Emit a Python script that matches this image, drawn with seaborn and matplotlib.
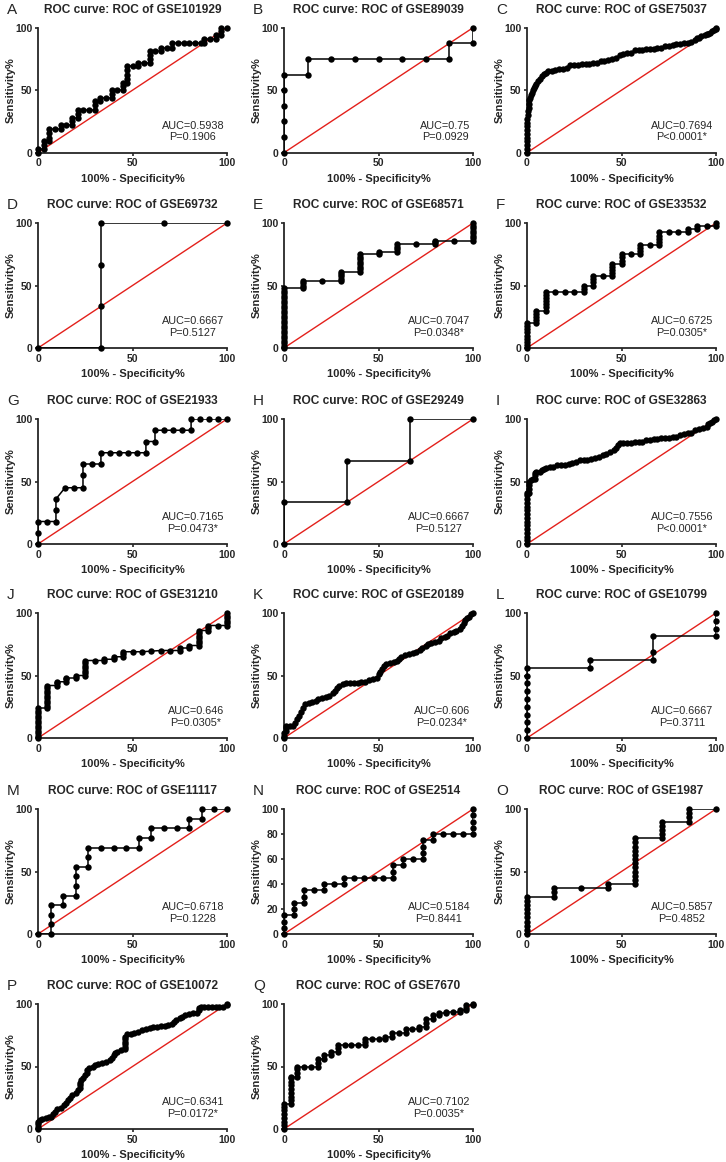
import numpy as np
import pandas as pd
import matplotlib
matplotlib.use("Agg")
import matplotlib.pyplot as plt
import seaborn as sns

sns.set_style("ticks")
plt.rcParams['font.family'] = ['Liberation Sans Narrow', 'Liberation Sans', 'DejaVu Sans']

# ---------------- data ----------------
letters = list("ABCDEFGHIJKLMNOPQ")
datasets = ["GSE101929", "GSE89039", "GSE75037", "GSE69732", "GSE68571", "GSE33532",
            "GSE21933", "GSE29249", "GSE32863", "GSE31210", "GSE20189", "GSE10799",
            "GSE11117", "GSE2514", "GSE1987", "GSE10072", "GSE7670"]
auc_labels = ["AUC=0.5938", "AUC=0.75", "AUC=0.7694", "AUC=0.6667", "AUC=0.7047", "AUC=0.6725",
              "AUC=0.7165", "AUC=0.6667", "AUC=0.7556", "AUC=0.646", "AUC=0.606", "AUC=0.6667",
              "AUC=0.6718", "AUC=0.5184", "AUC=0.5857", "AUC=0.6341", "AUC=0.7102"]
p_labels = ["P=0.1906", "P=0.0929", "P<0.0001*", "P=0.5127", "P=0.0348*", "P=0.0305*",
            "P=0.0473*", "P=0.5127", "P<0.0001*", "P=0.0305*", "P=0.0234*", "P=0.3711",
            "P=0.1228", "P=0.8441", "P=0.4852", "P=0.0172*", "P=0.0035*"]
diag = [0, 100]
ticks_default = [0, 50, 100]
ticks_N = [0, 20, 40, 60, 80, 100]

# ROC points: (100% - specificity%, sensitivity%)
roc_A = [(0,0),(0,3),(3,3),(3,6),(3,9),(6,9),(6,12),(6,16),(6,19),(9,19),(12,19),(12,22),(15,22),
         (18,22),(18,25),(18,28),(21,28),(21,31),(21,34),(24,34),(27,34),(30,34),(30,38),(30,41),
         (33,41),(33,44),(36,44),(39,44),(39,47),(39,50),(42,50),(45,50),(45,53),(45,56),(47,56),
         (47,59),(47,62),(47,66),(47,69),(50,69),(53,69),(53,72),(56,72),(59,72),(59,75),(59,78),
         (59,81),(62,81),(65,81),(65,84),(68,84),(71,84),(71,88),(74,88),(77,88),(80,88),(83,88),
         (86,88),(88,88),(88,91),(91,91),(94,91),(94,94),(97,94),(97,97),(97,100),(100,100)]
roc_B = [(0,0),(0,12.5),(0,25),(0,37.5),(0,50),(0,62.5),(12.5,62.5),(12.5,75),(25,75),(37.5,75),
         (50,75),(62.5,75),(75,75),(87.5,75),(87.5,87.5),(100,87.5),(100,100)]
roc_C = [(0,0),(0,3),(0,6),(0,9),(0,12),(0,15),(0,18),(0,21),(0,24),(0,27),(0.5,30),(0.5,33),
         (1,36),(1,39),(1,42),(1.5,44),(2,46),(2.5,48),(3,50),(3.5,52),(4,53),(5,55),(6,57),(7,59),
         (8,61),(9,63),(10,64),(11,65),(13,65.5),(15,66),(17,67),(19,67),(21,68),(23,70),(25,70),
         (27,70.5),(29,71),(31,71),(33,71),(35,71.5),(37,72),(39,73),(41,73),(43,74),(45,75),
         (47,76),(49,78),(51,79),(53,80),(55,80),(57,82),(59,82),(61,82.5),(63,83),(65,83),(67,83),
         (69,84),(71,84),(73,85),(75,85.5),(77,86),(79,87),(81,87),(83,88),(85,88),(87,88.5),
         (89,90),(90,92),(91,92),(92,93),(94,94),(95,95),(96,95),(97,96),(98,97),(99,98),(100,99),
         (100,100)]
roc_D = [(0,0),(33.3,0),(33.3,33.3),(33.3,66.7),(33.3,100),(66.7,100),(100,100)]
roc_E = [(0,0),(0,2),(0,4),(0,6),(0,8),(0,10),(0,12),(0,14),(0,16),(0,18),(0,20),(0,22),(0,24),
         (0,26),(0,28),(0,30),(0,32),(0,34),(0,36),(0,38),(0,40),(0,42),(0,44),(0,46),(0,48),
         (10,48),(10,50),(10,52),(10,53.5),(20,53.5),(30,53.5),(30,55.5),(30,57.5),(30,59.5),
         (30,61),(40,61),(40,63),(40,65),(40,67),(40,69),(40,71),(40,73),(40,75),(50,75),(50,77),
         (60,77),(60,79),(60,81),(60,83),(70,83),(80,83),(80,85),(80,86),(90,86),(100,86),(100,88),
         (100,90),(100,92),(100,94),(100,96),(100,98),(100,100)]
roc_F = [(0,0),(0,2.5),(0,5),(0,7.5),(0,10),(0,12.5),(0,15),(0,17.5),(0,20),(5,20),(5,22.5),
         (5,25),(5,27.5),(5,30),(10,30),(10,32.5),(10,35),(10,37.5),(10,40),(10,42.5),(10,45),
         (15,45),(20,45),(25,45),(30,45),(30,47.5),(30,50),(35,50),(35,52.5),(35,55),(35,57.5),
         (40,57.5),(45,57.5),(45,60),(45,62.5),(45,65),(45,67.5),(50,67.5),(50,70),(50,72.5),
         (50,75),(55,75),(60,75),(60,77.5),(60,80),(60,82.5),(65,82.5),(70,82.5),(70,85),(70,87.5),
         (70,90),(70,92.5),(75,92.5),(80,92.5),(85,92.5),(85,95),(90,95),(90,97.5),(95,97.5),
         (100,97.5),(100,100)]
roc_G = [(0,0),(0,9),(0,18),(4.8,18),(9.5,18),(9.5,27),(9.5,36),(14.3,45),(19,45),(23.8,45),
         (23.8,55),(23.8,64),(28.6,64),(33.3,64),(33.3,73),(38.1,73),(42.9,73),(47.6,73),(52.4,73),
         (57.1,73),(57.1,82),(61.9,82),(61.9,91),(66.7,91),(71.4,91),(76.2,91),(81,91),(81,100),
         (85.7,100),(90.5,100),(95.2,100),(100,100)]
roc_H = [(0,0),(0,33.3),(33.3,33.3),(33.3,66.7),(66.7,66.7),(66.7,100),(100,100)]
roc_I = [(0,0),(0,3),(0,6),(0,9),(0,12),(0,15),(0,18),(0,21),(0,24),(0,27),(0,30),(0,33),(0,36),
         (0,39),(0,41),(1,41),(1,44),(1,47),(1,50),(2,51),(3,52),(4,52),(4,55),(4,57),(5,58),(7,58),
         (8,59),(9,60),(10,61),(12,62),(14,62),(16,63),(18,63),(20,63.5),(22,64),(24,65),(26,66),
         (28,67),(30,67),(32,67.5),(34,68),(36,69),(38,70),(40,71),(42,72),(44,74),(46,75),(47,77),
         (48,79),(49,81),(51,81),(53,81),(55,81),(57,81.5),(59,82),(61,82),(63,83),(65,83),(67,84),
         (69,84),(71,84.5),(73,85),(75,85),(77,86),(79,86),(81,87),(83,88),(85,88.5),(87,89),
         (89,91),(91,92),(93,93),(95,94),(96,96),(97,97),(98,98),(99,99),(100,100)]
roc_J = [(0,0),(0,2),(0,4),(0,6),(0,8),(0,10),(0,12),(0,14),(0,16),(0,18),(0,20),(0,22),(0,24),
         (5,24),(5,26),(5,28),(5,30),(5,32),(5,34),(5,36),(5,38),(5,40),(5,42),(10,42),(10,44),
         (10,45),(15,45),(15,47),(15,48),(20,48),(20,50),(25,50),(25,52),(25,54),(25,56),(25,58),
         (25,60),(25,62),(30,62),(35,62),(35,63),(40,63),(40,65),(45,65),(45,67),(45,69),(50,69),
         (55,69),(60,69.5),(65,70),(70,70),(75,70),(75,72),(80,72),(80,74),(85,74),(85,76),(85,78),
         (85,80),(85,82),(85,84),(85,86),(90,86),(90,88),(90,90),(95,90),(100,90),(100,92),(100,94),
         (100,96),(100,98),(100,100)]
roc_K = [(0,0),(0,2),(0,4),(1,6),(1,8),(1,10),(3,10),(5,10),(6,12),(7,15),(8,18),(9,21),(10,24),
         (11,27),(13,28),(15,29),(17,30),(18,31.5),(20,32),(22,33),(24,34),(26,36),(27,38),(28,40),
         (29,41.5),(31,43),(33,44),(35,44),(37,44),(39,44),(41,45),(43,45),(45,46.5),(47,47),(49,48),
         (50,51),(51,53),(52,55.5),(53,58),(54,59),(56,60),(58,61),(60,62),(61,63.5),(62,65),
         (64,66.5),(66,67),(68,68),(70,69),(72,70.5),(73,72),(75,74),(76,75),(78,76),(80,76.5),
         (82,78),(83,80),(85,81),(86,82),(88,84),(90,85),(91,86),(93,87.5),(94,90),(95,92),(96,94.5),
         (97,96),(98,97),(99,99),(100,100)]
roc_L = [(0,0),(0,6.25),(0,12.5),(0,18.75),(0,25),(0,31.25),(0,37.5),(0,43.75),(0,50),(0,56.25),
         (33.3,56.25),(33.3,62.5),(66.7,62.5),(66.7,68.75),(66.7,81.25),(100,81.25),(100,87.5),
         (100,93.75),(100,100)]
roc_M = [(0,0),(6.67,0),(6.67,7.7),(6.67,15.4),(6.67,23.1),(13.3,23.1),(13.3,30.8),(20,30.8),
         (20,38.5),(20,46.2),(20,53.8),(26.7,53.8),(26.7,61.5),(26.7,69.2),(33.3,69.2),(40,69.2),
         (46.7,69.2),(53.3,69.2),(53.3,76.9),(60,76.9),(60,84.6),(66.7,84.6),(73.3,84.6),(80,84.6),
         (80,92.3),(86.7,92.3),(86.7,100),(93.3,100),(100,100)]
roc_N = [(0,0),(0,5),(0,10),(0,15),(5.3,15),(5.3,20),(5.3,25),(10.5,25),(10.5,30),(10.5,35),
         (15.8,35),(21.1,35),(21.1,40),(26.3,40),(31.6,40),(31.6,45),(36.8,45),(42.1,45),(47.4,45),
         (52.6,45),(57.9,45),(57.9,50),(57.9,55),(63.2,55),(63.2,60),(68.4,60),(73.7,60),(73.7,65),
         (73.7,70),(73.7,75),(78.9,75),(78.9,80),(84.2,80),(89.5,80),(94.7,80),(100,80),(100,85),
         (100,90),(100,95),(100,100)]
roc_O = [(0,0),(0,3.3),(0,6.7),(0,10),(0,13.3),(0,16.7),(0,20),(0,23.3),(0,26.7),(0,30),
         (14.3,30),(14.3,33.3),(14.3,36.7),(28.6,36.7),(42.9,36.7),(42.9,40),(57.1,40),(57.1,43.3),
         (57.1,46.7),(57.1,50),(57.1,53.3),(57.1,56.7),(57.1,60),(57.1,63.3),(57.1,66.7),(57.1,70),
         (57.1,73.3),(57.1,76.7),(71.4,76.7),(71.4,80),(71.4,83.3),(71.4,86.7),(71.4,90),(85.7,90),
         (85.7,93.3),(85.7,96.7),(85.7,100),(100,100)]
roc_P = [(0,0),(0,2),(0,4),(0,6),(1,7),(2,8),(4,9),(6,9.5),(7,10),(8,12),(9,14),(10,16),(12,17),
         (14,19),(15,21),(16,23),(17,25),(18,27),(20,29),(21,31),(22,33),(22,35),(22,37),(23,39),
         (24,41),(25,43),(26,45),(26,47),(27,49),(29,50),(30,51),(32,52),(34,53),(36,54),(38,55),
         (39,57),(40,59),(41,61),(42,62),(44,63),(46,64),(46,66),(46,68),(46,70),(46,72),(46,74),
         (47,76),(49,76),(51,77),(53,78),(55,79),(57,80),(59,81),(61,81.5),(63,82),(65,82.5),
         (67,82.5),(69,83),(71,84),(72,86),(73,87),(75,89),(76,90),(78,91),(80,92),(82,92.5),(84,93),
         (85,95),(85,97),(86,98),(88,98),(90,98),(92,98),(94,98),(96,98),(98,98),(100,99),(100,100)]
roc_Q = [(0,0),(0,3),(0,6),(0,9),(0,12),(0,15),(0,18),(0,20),(3.6,20),(3.6,23),(3.6,26),(3.6,29),
         (3.6,32),(3.6,35),(3.6,38),(3.6,41),(3.6,42),(7.1,42),(7.1,45),(7.1,48),(7.1,50),(10.7,50),
         (14.3,50),(17.9,50),(17.9,53),(17.9,56),(21.4,56),(21.4,59),(25,59),(25,62),(28.6,62),
         (28.6,65),(28.6,67),(32.1,67),(35.7,67),(39.3,67),(42.9,67),(42.9,70),(42.9,72),(46.4,72),
         (50,72),(53.6,72),(53.6,74),(57.1,74),(57.1,77),(60.7,77),(64.3,77),(64.3,80),(67.9,80),
         (71.4,80),(71.4,82),(75,82),(75,85),(75,88),(78.6,88),(78.6,91),(82.1,91),(82.1,93),
         (85.7,93),(85.7,94),(89.3,94),(92.9,94),(92.9,95),(96.4,95),(96.4,97),(96.4,99),(100,99),
         (100,100)]
rocs = [roc_A, roc_B, roc_C, roc_D, roc_E, roc_F, roc_G, roc_H, roc_I, roc_J, roc_K, roc_L,
        roc_M, roc_N, roc_O, roc_P, roc_Q]

# ---------------- layout ----------------
W, H = 726, 1162
fig = plt.figure(figsize=(W / 100, H / 100), dpi=100)
col_left = [38, 284, 527]
row_bottom = [152.7, 348, 544, 738, 934, 1129]
ax_w, ax_h = 189, 125

for i, roc in enumerate(rocs):
    r, c = divmod(i, 3)
    ax = fig.add_axes([col_left[c] / W, 1 - row_bottom[r] / H, ax_w / W, ax_h / H])
    sns.lineplot(x=diag, y=diag, color="#e3201b", lw=1.0, ax=ax, zorder=2)
    df = pd.DataFrame(roc, columns=["fpr", "tpr"])
    # connecting line (clipped at the frame like the original)
    sns.lineplot(data=df, x="fpr", y="tpr", sort=False, estimator=None, color="black", lw=1.1,
                 ax=ax, zorder=3)
    # data points
    sns.lineplot(data=df, x="fpr", y="tpr", sort=False, estimator=None, color="black",
                 linestyle="", marker="o", markersize=4.6, markeredgewidth=0,
                 markeredgecolor="black", ax=ax, clip_on=False, zorder=4)
    ax.set_xlim(0, 100)
    ax.set_ylim(0, 100)
    ax.set_xticks(ticks_default)
    ax.set_yticks(ticks_N if letters[i] == "N" else ticks_default)
    sns.despine(ax=ax)
    for s in ("left", "bottom"):
        ax.spines[s].set_linewidth(1.3)
    ax.tick_params(direction="out", length=2.5, width=1.2, labelsize=7.5, pad=1.5)
    for lab in ax.get_xticklabels() + ax.get_yticklabels():
        lab.set_fontweight("bold")
    ax.set_xlabel("100% - Specificity%", fontsize=8, fontweight="bold", labelpad=4)
    ax.set_ylabel("Sensitivity%", fontsize=8, fontweight="bold")
    ax.yaxis.set_label_coords(-0.118, 0.5)
    ax.annotate(f"ROC curve: ROC of {datasets[i]}", xy=(0.5, 1), xycoords="axes fraction",
                xytext=(0, 18), textcoords="offset pixels", ha="center", va="center",
                fontsize=8.6, fontweight="bold")
    ax.annotate(letters[i], xy=(0, 1), xycoords="axes fraction", xytext=(-31, 18),
                textcoords="offset pixels", ha="left", va="center", fontsize=11)
    ax.text(98.5, 17, f"{auc_labels[i]}\n{p_labels[i]}", ha="right", va="center",
            multialignment="center", fontsize=7.8, linespacing=1.2)

fig.savefig("out.png", dpi=100)
